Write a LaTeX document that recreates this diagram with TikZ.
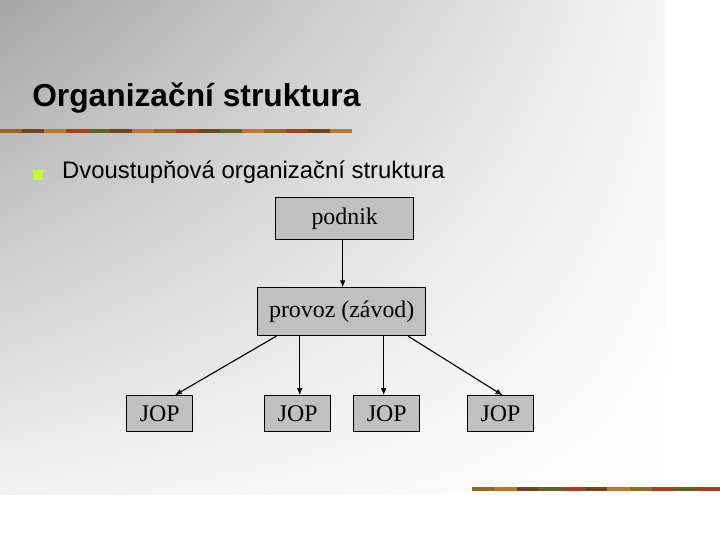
\documentclass[tikz,border=0pt]{standalone}
\usepackage{fontspec}
\setmainfont{Liberation Serif}
\newfontfamily\arialfont{Liberation Sans}
\usetikzlibrary{calc,positioning,arrows.meta,shadings}

\definecolor{boxgray}{RGB}{192,192,192}
\definecolor{bulletgreen}{RGB}{200,250,40}
\definecolor{stripeA}{RGB}{150,105,20}
\definecolor{stripeB}{RGB}{110,70,30}
\definecolor{stripeC}{RGB}{170,60,25}
\definecolor{stripeD}{RGB}{100,95,35}
\definecolor{stripeE}{RGB}{190,120,40}

\begin{document}
\begin{tikzpicture}[x=0.025cm, y=-0.025cm,
    box/.style={rectangle, draw, line width=0.6pt, fill=boxgray, inner sep=2pt,
        font=\fontsize{17}{20}\selectfont},
    jop/.style={box, minimum width=1.65cm, minimum height=0.9cm},
    arr/.style={-{Latex[length=5pt,width=4pt]}, line width=0.8pt}]
        %% Slide background
        \fill[white] (0,0) rectangle (720,540);
        \shade[upper left=black!35, upper right=black!4, lower left=black!5, lower right=white] (0,0) rectangle (665,495);
        \foreach \c [count=\i from 0] in {stripeA,stripeB,stripeE,stripeC,stripeD,stripeB,stripeE,stripeA,stripeC,stripeB,stripeD,stripeE,stripeA,stripeC,stripeB,stripeE}
            \fill[\c] (\i*22,129) rectangle (\i*22+22,133);
        \foreach \c [count=\i from 0] in {stripeA,stripeE,stripeB,stripeD,stripeC,stripeB,stripeE,stripeA,stripeC,stripeD,stripeC}
            \fill[\c] (472+\i*22.6,487) rectangle (494.6+\i*22.6,491);

        %% Title and bullet
        \node[anchor=base west, inner sep=0pt, font=\arialfont\bfseries\fontsize{22.6}{27}\selectfont] (title) at (32,107) {Organizační struktura};
        \fill[bulletgreen] (33,170) rectangle (43,180);
        \node[anchor=base west, inner sep=0pt, font=\arialfont\fontsize{17}{20}\selectfont] (item) at (62,179) {Dvoustupňová organizační struktura};

        %% Organisation chart
        \node[box, minimum width=3.45cm, minimum height=1.05cm] (podnik) at (345,219) {podnik};
        \node[box, minimum width=4.2cm, minimum height=1.2cm] (provoz) at (342,312) {provoz (závod)};
        \node[jop] (jop1) at (160,414) {JOP};
        \node[jop] (jop2) at (298,414) {JOP};
        \node[jop] (jop3) at (387,414) {JOP};
        \node[jop] (jop4) at (501,414) {JOP};

        \draw[arr] ([xshift=-0.05cm]podnik.south) -- ([xshift=-0.05cm]podnik.south |- provoz.north);
        \draw[arr] ([xshift=0.475cm]provoz.south west) -- ([xshift=0.375cm]jop1.north);
        \draw[arr] ([xshift=0.05cm]provoz.south -| jop2.north) -- ([xshift=0.05cm]jop2.north);
        \draw[arr] ([xshift=-0.075cm]provoz.south -| jop3.north) -- ([xshift=-0.075cm]jop3.north);
        \draw[arr] ([xshift=-0.45cm]provoz.south east) -- ([xshift=0.05cm]jop4.north);
\end{tikzpicture}
\end{document}
